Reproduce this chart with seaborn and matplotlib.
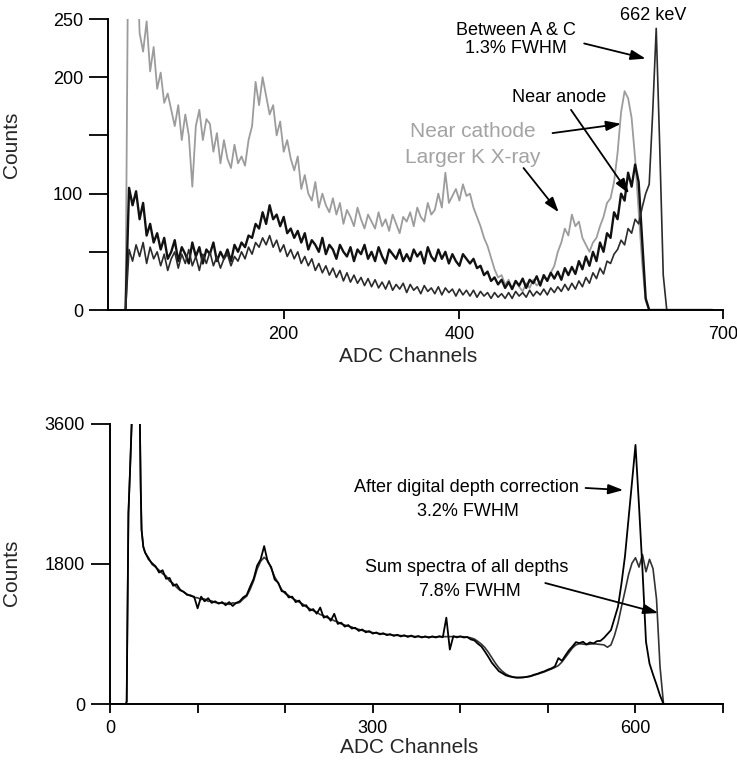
import numpy as np
import matplotlib
matplotlib.use("Agg")
import matplotlib.pyplot as plt
import seaborn as sns

# ---------------- data ----------------
# Top panel: ADC channels 20..688 in steps of 4
top_ch = list(range(20, 689, 4))

near_cathode = (
    [0, 420, 400, 330, 238, 222, 248, 205, 226, 190] +       # 20..56
    [204, 178, 186, 172, 158, 176, 146, 168, 150, 106] +     # 60..96
    [158, 172, 146, 164, 160, 136, 152, 126, 146, 130] +     # 100..136
    [122, 142, 126, 132, 124, 146, 158, 196, 176, 200] +     # 140..176
    [184, 168, 176, 150, 162, 136, 146, 130, 120, 132] +     # 180..216
    [104, 116, 100, 94, 110, 88, 100, 90, 84, 96] +          # 220..256
    [82, 92, 74, 86, 80, 72, 88, 78, 70, 82] +               # 260..296
    [76, 70, 84, 72, 78, 68, 82, 74, 66, 80] +               # 300..336
    [76, 84, 72, 88, 80, 76, 92, 82, 86, 100] +              # 340..376
    [88, 118, 92, 98, 104, 94, 108, 98, 100, 88] +           # 380..416
    [80, 72, 62, 55, 45, 35, 28, 30, 22, 26] +               # 420..456
    [18, 25, 20, 16, 23, 19, 26, 21, 24, 28] +               # 460..496
    [26, 32, 38, 50, 58, 70, 64, 82, 72, 76] +               # 500..536
    [62, 56, 50, 58, 62, 72, 80, 92, 96, 110] +              # 540..576
    [135, 170, 188, 182, 165, 130, 85, 40, 8, 0] +           # 580..616
    [0, 0, 0, 0, 0, 0, 0, 0, 0, 0] +                         # 620..656
    [0, 0, 0, 0, 0, 0, 0, 0]                                 # 660..688
)

near_anode = (
    [0, 105, 90, 102, 78, 92, 64, 74, 58, 66] +
    [52, 62, 44, 50, 60, 42, 54, 48, 40, 58] +
    [46, 54, 40, 52, 48, 58, 42, 50, 44, 52] +
    [42, 56, 50, 58, 54, 64, 62, 74, 70, 84] +
    [74, 90, 78, 82, 72, 80, 66, 70, 62, 68] +
    [58, 66, 52, 60, 56, 50, 62, 48, 56, 52] +
    [44, 56, 50, 46, 54, 42, 52, 48, 56, 44] +
    [50, 42, 54, 46, 40, 52, 48, 44, 52, 42] +
    [48, 42, 52, 46, 50, 40, 54, 46, 42, 52] +
    [44, 50, 40, 48, 42, 38, 48, 44, 40, 44] +
    [36, 38, 30, 33, 25, 28, 22, 26, 19, 24] +
    [18, 25, 21, 27, 19, 26, 23, 29, 21, 30] +
    [25, 32, 27, 33, 26, 36, 30, 37, 31, 42] +
    [35, 46, 38, 50, 42, 58, 50, 66, 62, 84] +
    [78, 100, 94, 118, 106, 125, 110, 60, 10, 0] +
    [0, 0, 0, 0, 0, 0, 0, 0, 0, 0] +
    [0, 0, 0, 0, 0, 0, 0, 0]
)

between_a_c = (
    [0, 52, 42, 56, 46, 58, 40, 54, 44, 50] +                # 20..56
    [38, 48, 34, 44, 50, 36, 48, 40, 52, 38] +               # 60..96
    [46, 34, 48, 40, 50, 38, 46, 36, 44, 48] +               # 100..136
    [38, 46, 42, 50, 44, 54, 48, 58, 54, 62] +               # 140..176
    [56, 64, 54, 60, 50, 56, 46, 52, 44, 50] +               # 180..216
    [40, 46, 38, 44, 34, 40, 32, 38, 30, 36] +               # 220..256
    [28, 34, 25, 32, 24, 30, 23, 28, 21, 27] +               # 260..296
    [20, 26, 19, 24, 18, 25, 17, 22, 18, 23] +               # 300..336
    [15, 22, 17, 20, 14, 21, 16, 19, 14, 20] +               # 340..376
    [13, 19, 15, 18, 12, 18, 13, 17, 12, 17] +               # 380..416
    [11, 16, 12, 15, 10, 15, 11, 14, 10, 15] +               # 420..456
    [10, 16, 12, 15, 11, 17, 12, 16, 13, 18] +               # 460..496
    [13, 19, 15, 20, 16, 22, 17, 23, 18, 25] +               # 500..536
    [20, 28, 23, 32, 27, 36, 31, 42, 40, 48] +               # 540..576
    [52, 60, 56, 70, 66, 78, 74, 88, 100, 108] +             # 580..616
    [170, 242, 140, 30, 0, 0, 0, 0, 0, 0] +                  # 620..656
    [0, 0, 0, 0, 0, 0, 0, 0]                                 # 660..688
)

# Bottom panel
bot_ch = [0, 18, 19, 21, 23, 25, 28, 31, 34, 35, 36, 38] + list(range(40, 701, 4))

after_correction = (
    [0, 0, 30, 2450, 3050, 3700, 5000, 5000, 3700, 2800, 2240, 2020] +
    [1950, 1860, 1810, 1770, 1690, 1720, 1610, 1620, 1520, 1540] +     # 40..76
    [1470, 1440, 1410, 1390, 1380, 1230, 1380, 1320, 1360, 1300] +     # 80..116
    [1320, 1290, 1310, 1270, 1310, 1260, 1300, 1320, 1370, 1400] +     # 120..156
    [1510, 1610, 1780, 1860, 2030, 1830, 1760, 1600, 1560, 1450] +     # 160..196
    [1440, 1370, 1380, 1310, 1330, 1260, 1270, 1200, 1220, 1160] +     # 200..236
    [1240, 1110, 1130, 1070, 1160, 1030, 1045, 995, 1015, 970] +       # 240..276
    [980, 940, 958, 922, 938, 905, 920, 895, 910, 885] +               # 280..316
    [898, 875, 890, 868, 884, 862, 880, 858, 874, 855] +               # 320..356
    [870, 852, 870, 855, 872, 858, 1110, 700, 872, 856] +              # 360..396
    [870, 855, 860, 830, 818, 775, 740, 675, 605, 530] +               # 400..436
    [475, 422, 395, 368, 355, 345, 338, 340, 342, 350] +               # 440..476
    [358, 376, 388, 406, 420, 442, 458, 484, 590, 555] +               # 480..516
    [625, 690, 740, 795, 782, 800, 765, 792, 778, 808] +               # 520..556
    [812, 850, 900, 950, 1100, 1250, 1550, 1900, 2370, 2850] +         # 560..596
    [3330, 2550, 1720, 800, 520, 380, 250, 110, 0, 0] +                # 600..636
    [0, 0, 0, 0, 0, 0, 0, 0, 0, 0] +                                   # 640..676
    [0, 0, 0, 0, 0, 0]                                                 # 680..700
)

sum_all_depths = (
    [0, 0, 30, 2450, 3050, 3700, 5000, 5000, 3700, 2800, 2240, 2020] +
    [1945, 1880, 1795, 1760, 1720, 1675, 1645, 1580, 1550, 1500] +
    [1460, 1445, 1400, 1400, 1370, 1365, 1345, 1350, 1320, 1325] +
    [1305, 1300, 1295, 1295, 1280, 1300, 1295, 1305, 1350, 1385] +
    [1475, 1585, 1735, 1835, 1885, 1845, 1745, 1635, 1555, 1470] +
    [1420, 1395, 1360, 1335, 1310, 1285, 1250, 1225, 1200, 1180] +
    [1150, 1135, 1110, 1095, 1070, 1055, 1030, 1015, 1000, 990] +
    [970, 960, 945, 938, 925, 918, 910, 906, 900, 896] +
    [890, 886, 882, 880, 876, 874, 870, 868, 866, 864] +
    [862, 862, 862, 864, 864, 866, 866, 866, 866, 866] +
    [866, 864, 860, 850, 835, 805, 770, 725, 665, 595] +
    [525, 465, 420, 385, 362, 348, 342, 340, 343, 348] +
    [356, 370, 384, 398, 414, 432, 450, 470, 495, 540] +
    [600, 660, 720, 760, 775, 770, 765, 770, 775, 770] +
    [765, 760, 730, 760, 880, 1040, 1250, 1450, 1660, 1810] +
    [1880, 1760, 1920, 1700, 1860, 1740, 1350, 480, 0, 0] +
    [0, 0, 0, 0, 0, 0, 0, 0, 0, 0] +
    [0, 0, 0, 0, 0, 0]
)

top_xticks = [200, 400, 700]
top_yticks = [0, 50, 100, 150, 200, 250]
top_yticklabels = ["0", "", "100", "", "200", "250"]
bot_xticks = [0, 100, 200, 300, 400, 500, 600, 700]
bot_xticklabels = ["0", "", "", "300", "", "", "600", ""]
bot_yticks = [0, 1800, 3600]

# ---------------- style ----------------
sns.set_style("ticks")
plt.rcParams["font.family"] = ["Liberation Sans", "DejaVu Sans"]

fig = plt.figure(figsize=(7.37, 7.61), dpi=100)
ax1 = fig.add_axes([0.1465, 0.5926, 0.8345, 0.3824])
ax2 = fig.add_axes([0.1493, 0.0749, 0.8318, 0.3680])

# ---------------- top panel ----------------
sns.lineplot(x=top_ch, y=near_cathode, ax=ax1, color="#9c9c9c", lw=1.3,
             estimator=None, sort=False)
sns.lineplot(x=top_ch, y=near_anode, ax=ax1, color="#111111", lw=1.7,
             estimator=None, sort=False)
sns.lineplot(x=top_ch, y=between_a_c, ax=ax1, color="#2b2b2b", lw=1.2,
             estimator=None, sort=False)

ax1.set_xlim(0, 700)
ax1.set_ylim(0, 250)
ax1.set_xticks(top_xticks)
ax1.set_xticklabels([str(t) for t in top_xticks])
ax1.set_yticks(top_yticks)
ax1.set_yticklabels(top_yticklabels)

txt_kw = dict(ha="center", va="center", color="black", fontsize=13)
ax1.text(620, 253, "662 keV", clip_on=False, **txt_kw)
ax1.text(464, 240, "Between A & C", **txt_kw)
ax1.text(464, 225, "1.3% FWHM", **txt_kw)
ax1.text(513, 183, "Near anode", **txt_kw)
ax1.text(415, 153, "Near cathode", ha="center", va="center", color="#a3a3a3", fontsize=15)
ax1.text(415, 131, "Larger K X-ray", ha="center", va="center", color="#a3a3a3", fontsize=15)

arr = dict(arrowstyle="-|>,head_length=0.9,head_width=0.3", color="black", lw=1.3,
           shrinkA=0, shrinkB=0)
ax1.annotate("", xy=(612, 216), xytext=(542, 229), arrowprops=arr)
ax1.annotate("", xy=(584, 160), xytext=(506, 152), arrowprops=arr)
ax1.annotate("", xy=(593, 100), xytext=(527, 172), arrowprops=arr)
ax1.annotate("", xy=(513, 84), xytext=(473, 122), arrowprops=arr)

# ---------------- bottom panel ----------------
sns.lineplot(x=bot_ch, y=sum_all_depths, ax=ax2, color="#333333", lw=1.2,
             estimator=None, sort=False)
sns.lineplot(x=bot_ch, y=after_correction, ax=ax2, color="#000000", lw=1.3,
             estimator=None, sort=False)

ax2.set_xlim(0, 700)
ax2.set_ylim(0, 3600)
ax2.set_xticks(bot_xticks)
ax2.set_xticklabels(bot_xticklabels)
ax2.set_yticks(bot_yticks)
ax2.set_yticklabels([str(t) for t in bot_yticks])

ax2.text(407, 2777, "After digital depth correction", **txt_kw)
ax2.text(409, 2469, "3.2% FWHM", **txt_kw)
ax2.text(407, 1761, "Sum spectra of all depths", **txt_kw)
ax2.text(411, 1452, "7.8% FWHM", **txt_kw)
ax2.annotate("", xy=(586, 2750), xytext=(543, 2777), arrowprops=arr)
ax2.annotate("", xy=(626, 1170), xytext=(497, 1555), arrowprops=arr)

# ---------------- axes styling ----------------
for ax in (ax1, ax2):
    sns.despine(ax=ax)
    for s in ("left", "bottom"):
        ax.spines[s].set_linewidth(1.4)
        ax.spines[s].set_color("black")
    ax.tick_params(axis="y", length=14, width=1.3, pad=4, labelsize=13, colors="black")
    ax.tick_params(axis="x", length=6.5, width=1.3, pad=5, labelsize=13, colors="black")
    ax.set_xlabel("ADC Channels", fontsize=15)
    ax.set_ylabel("Counts", fontsize=15)

ax1.yaxis.set_label_coords(-0.1415, 0.567)
ax2.yaxis.set_label_coords(-0.145, 0.468)
ax1.xaxis.set_label_coords(0.488, -0.127)
ax2.xaxis.set_label_coords(0.488, -0.121)

fig.savefig("out.png", dpi=100)
